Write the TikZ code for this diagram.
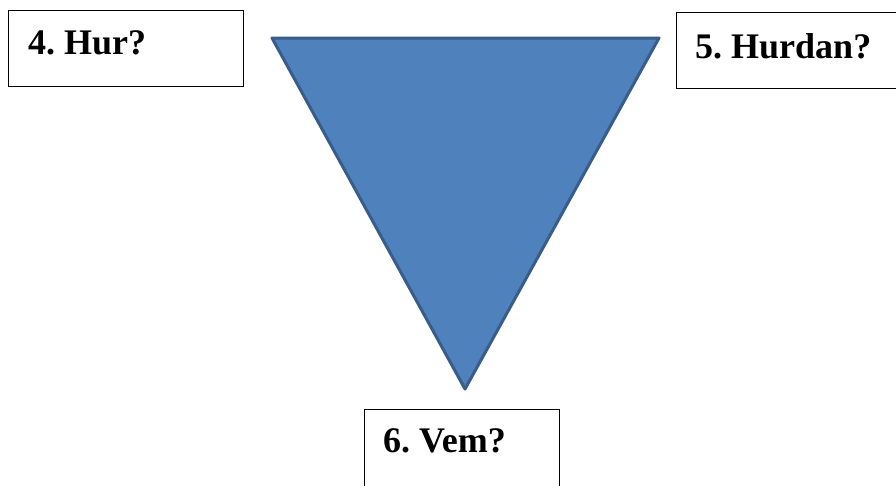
\documentclass[tikz,border=0pt]{standalone}
\usepackage{fontspec}
\setmainfont{Liberation Serif}
\frenchspacing
\definecolor{trifill}{HTML}{4F81BD}
\definecolor{triedge}{HTML}{385D8A}
\begin{document}
\begin{tikzpicture}[x=1pt,y=-1pt,
  box/.style={draw=black,line width=1.3pt,fill=white,inner sep=0pt,anchor=north west},
  lbl/.style={font=\bfseries\fontsize{36}{40}\selectfont,inner sep=0pt,anchor=base west},
  tri/.style={fill=trifill,draw=triedge,line width=3pt,line join=round}]
\useasboundingbox (0,0) rectangle (896,485);
\clip (0,0) rectangle (896,485);
\fill[white] (0,0) rectangle (896,485);
% triangle
\coordinate (tl) at (272,38);
\coordinate (tr) at (659,38);
\coordinate (bt) at (465,389);
\path[tri] (tl) -- (tr) -- (bt) -- cycle;
% boxes
\node[box,minimum width=235pt,minimum height=76pt] (b4) at (8,10) {};
\node[lbl] (t4) at (28,54) {4. Hur?};
\node[box,minimum width=235pt,minimum height=76pt] (b5) at (675.5,12) {};
\node[lbl] (t5) at (695,58) {5. Hurdan?};
\node[box,minimum width=195pt,minimum height=90pt] (b6) at (363.5,408.5) {};
\node[lbl] (t6) at (383,452) {6. Vem?};
\end{tikzpicture}
\end{document}
